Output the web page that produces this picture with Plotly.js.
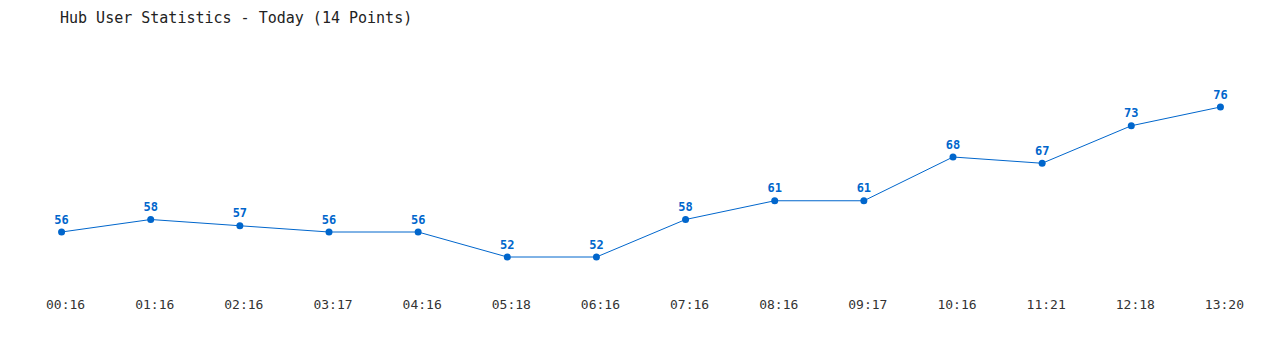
<!DOCTYPE html>
<html><head><meta charset="utf-8">
<script src="https://cdn.plot.ly/plotly-3.0.1.min.js"></script>
<style>html,body{margin:0;padding:0;background:#fff}#chart{width:1280px;height:350px}</style>
</head><body><div id="chart"></div>
<script>
const times = ["00:16","01:16","02:16","03:17","04:16","05:18","06:16","07:16","08:16","09:17","10:16","11:21","12:18","13:20"];
const users = [56,58,57,56,56,52,52,58,61,61,68,67,73,76];
const titleText = "Hub User Statistics - Today (14 Points)";
const blue = "#0066cc";
const mono = "DejaVu Sans Mono, monospace";

Plotly.newPlot("chart", [{
  x: times, y: users, type: "scatter", mode: "lines+markers+text",
  text: users.map(String), textposition: "top center",
  textfont: {family: mono, size: 12, color: blue, weight: "bold"},
  line: {color: blue, width: 1},
  marker: {color: blue, size: 7},
  hoverinfo: "x+y", cliponaxis: false
}], {
  width: 1280, height: 350,
  margin: {l: 17, r: 15, t: 50, b: 60},
  paper_bgcolor: "#fff", plot_bgcolor: "#fff",
  title: {text: titleText, x: 60/1280, xanchor: "left", y: 1 - 18/350, yanchor: "middle",
          font: {family: mono, size: 15, color: "#222"}},
  showlegend: false,
  xaxis: {type: "category", range: [-0.5, 13.5], showgrid: false, zeroline: false, showline: false,
          ticks: "", ticklabelstandoff: 5, ticklabelshift: 4,
          tickfont: {family: mono, size: 13, color: "#333"}, fixedrange: true},
  yaxis: {range: [46.72, 85.12], showgrid: false, zeroline: false, showline: false,
          showticklabels: false, ticks: "", fixedrange: true}
}, {displayModeBar: false, staticPlot: true});
</script></body></html>
